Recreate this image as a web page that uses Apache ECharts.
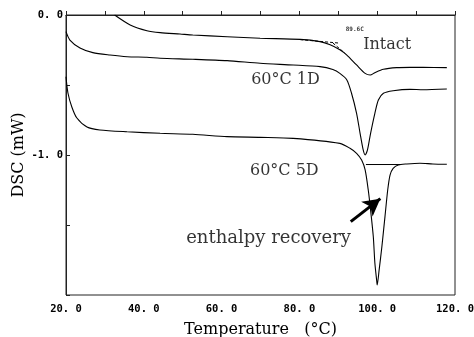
<!DOCTYPE html>
<html>
<head>
<meta charset="UTF-8">
<title>DSC</title>
<script src="https://cdn.jsdelivr.net/npm/echarts@6/dist/echarts.min.js"></script>
</head>
<body style="margin:0;background:#fff">
<div id="main" style="width:474px;height:337px;"></div>
<script type="text/javascript">
// curves: temperature (C) and DSC (mW)
var tIntact = [32.5, 36.5, 40.8, 44.2, 49.3, 52.6, 61.4, 69.9, 80.2, 85.3, 87.9, 90.4, 92.2, 94.7, 96.9, 98.2, 99.4, 101.6, 105.0, 108.4, 111.8, 117.9];
var dscIntact = [0.0, -0.071, -0.112, -0.126, -0.136, -0.143, -0.155, -0.166, -0.174, -0.19, -0.212, -0.248, -0.286, -0.357, -0.417, -0.429, -0.412, -0.388, -0.376, -0.374, -0.374, -0.376];

var t1D = [20, 21.0, 23.6, 26.9, 31.3, 35.7, 40.8, 44.2, 52.6, 61.4, 69.9, 78.4, 85.3, 88.6, 90.4, 92.2, 93.4, 94.7, 95.6, 96.4, 96.9, 97.5, 98.3, 99.4, 100.3, 101.6, 104.1, 108.4, 111.8, 117.9];
var dsc1D = [-0.119, -0.179, -0.236, -0.269, -0.286, -0.298, -0.302, -0.309, -0.316, -0.326, -0.345, -0.357, -0.369, -0.39, -0.417, -0.464, -0.559, -0.702, -0.845, -0.964, -1.0, -0.964, -0.845, -0.702, -0.607, -0.559, -0.541, -0.531, -0.534, -0.529];

var t5D = [20, 20.5, 21.5, 22.8, 25.4, 28.7, 35.7, 44.2, 52.6, 61.4, 69.9, 78.4, 90.4, 93.0, 94.7, 96.0, 96.9, 97.7, 98.3, 99.0, 99.4, 99.9, 100.0, 100.5, 101.2, 102.0, 102.7, 103.3, 104.1, 105.4, 107.6, 111.0, 114.3, 117.9];
var dsc5D = [-0.441, -0.557, -0.657, -0.736, -0.8, -0.821, -0.834, -0.845, -0.852, -0.869, -0.874, -0.881, -0.917, -0.952, -0.988, -1.036, -1.107, -1.25, -1.393, -1.584, -1.771, -1.905, -1.929, -1.821, -1.655, -1.44, -1.25, -1.143, -1.095, -1.071, -1.064, -1.059, -1.064, -1.066];

// onset construction on the intact curve and baseline under the 5D peak
var tOnset = [80.2, 90.0];
var dscOnset = [-0.176, -0.2];
var tOnset2 = [88.6, 91.6];
var dscOnset2 = [-0.2, -0.27];
var tBase5D = [97.1, 106.0];
var dscBase5D = [-1.068, -1.068];

// text notes: label, temperature, dsc
var noteText = ['Intact', '60°C 1D', '60°C 5D', 'enthalpy recovery', '89.6C'];
var noteT = [96.4, 67.6, 67.3, 50.9, 91.9];
var noteDsc = [-0.214, -0.464, -1.114, -1.593, -0.1];
var noteSize = [16, 16, 16, 18, 6];

// arrow pointing to the recovery peak
var arrowFrom = [93.2, -1.476];
var arrowTo = [100.8, -1.312];

var xTicks = [20, 30, 40, 50, 60, 70, 80, 90, 100, 110, 120];
var yTickLabels = {'0': '0. 0', '-1': '-1. 0'};

function pairs(xs, ys) {
    var out = [];
    for (var i = 0; i < xs.length; i++) out.push([xs[i], ys[i]]);
    return out;
}

var myChart = echarts.init(document.getElementById('main'));

var notes = [];
for (var i = 0; i < noteText.length; i++) {
    notes.push({
        name: noteText[i],
        value: [noteT[i], noteDsc[i]],
        label: {fontSize: noteSize[i], fontFamily: i == 4 ? 'DejaVu Sans Mono' : 'DejaVu Serif', fontWeight: i == 4 ? 'bold' : 'normal'}
    });
}

var curveStyle = {color: '#000', width: 1.1};
var tickFont = {color: '#000', fontFamily: 'DejaVu Sans Mono', fontWeight: 'bold', fontSize: 10.5};

option = {
    animation: false,
    backgroundColor: '#fff',
    grid: {left: 66, top: 15, right: 19, bottom: 42, outerBoundsMode: 'none', containLabel: false,
        show: true, borderColor: '#222', borderWidth: 1},
    xAxis: {
        type: 'value', min: xTicks[0], max: xTicks[xTicks.length - 1], interval: 10,
        name: 'Temperature   (°C)', nameLocation: 'middle', nameGap: 27, nameMoveOverlap: false,
        nameTextStyle: {fontFamily: 'DejaVu Serif', fontSize: 16, color: '#000'},
        axisLine: {lineStyle: {color: '#222'}},
        axisTick: {inside: true, length: 4, lineStyle: {color: '#222'}},
        splitLine: {show: false},
        axisLabel: Object.assign({
            margin: 9,
            formatter: function (v) { return v % 20 == 0 ? v.toFixed(1).replace('.', '. ') : ''; }
        }, tickFont)
    },
    yAxis: {
        type: 'value', min: -2, max: 0, interval: 0.5,
        name: 'DSC (mW)', nameLocation: 'middle', nameGap: 39, nameMoveOverlap: false,
        nameTextStyle: {fontFamily: 'DejaVu Serif', fontSize: 16, color: '#000'},
        axisLine: {lineStyle: {color: '#222'}},
        axisTick: {inside: true, length: 4, lineStyle: {color: '#222'}},
        splitLine: {show: false},
        axisLabel: Object.assign({
            margin: 3,
            formatter: function (v) { return yTickLabels[String(v)] || ''; }
        }, tickFont)
    },
    series: [{
        name: 'Intact', type: 'line', data: pairs(tIntact, dscIntact),
        smooth: 0.25, symbol: 'none', lineStyle: curveStyle
    }, {
        name: '60C 1D', type: 'line', data: pairs(t1D, dsc1D),
        smooth: 0.25, symbol: 'none', lineStyle: curveStyle
    }, {
        name: '60C 5D', type: 'line', data: pairs(t5D, dsc5D),
        smooth: 0.25, symbol: 'none', lineStyle: curveStyle,
        markLine: {
            silent: true, symbol: ['none', 'arrow'], symbolSize: [14, 17],
            label: {show: false},
            lineStyle: {color: '#000', width: 3, type: 'solid'},
            data: [[{coord: arrowFrom}, {coord: arrowTo}]]
        }
    }, {
        type: 'line', data: pairs(tOnset, dscOnset), symbol: 'none',
        lineStyle: {color: '#000', width: 1, type: [3, 2]}
    }, {
        type: 'line', data: pairs(tOnset2, dscOnset2), symbol: 'none',
        lineStyle: {color: '#000', width: 1, type: [3, 2]}
    }, {
        type: 'line', data: pairs(tBase5D, dscBase5D), symbol: 'none',
        lineStyle: {color: '#000', width: 1}
    }, {
        type: 'scatter', data: notes, symbolSize: 0, silent: true,
        label: {show: true, position: 'right', distance: 0, color: '#000', formatter: '{b}'}
    }]
};
myChart.setOption(option);
</script>
</body>
</html>
